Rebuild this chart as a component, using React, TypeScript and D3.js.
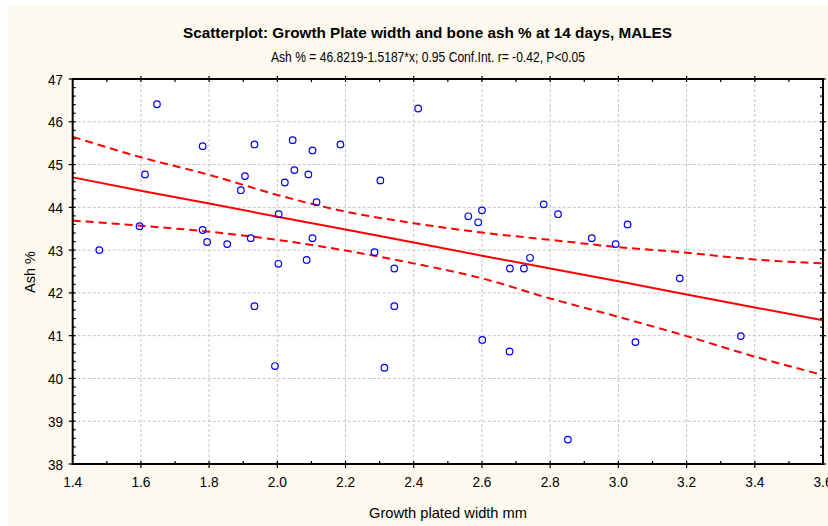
import React, { useEffect, useRef } from 'react';
import * as d3 from 'd3';

// scatter data: growth plate width (mm) vs ash %
const widthMm = [
  1.647, 1.478, 1.612, 1.596, 1.781, 1.933, 1.781, 1.794, 1.853, 1.893,
  1.905, 1.922, 2.004, 2.003, 2.022, 2.045, 2.050, 2.103, 2.091, 2.185,
  2.115, 2.302, 2.413, 2.103, 2.086, 2.285, 2.343, 2.560, 2.600, 2.589,
  2.781, 2.823, 2.741, 2.682, 2.723, 2.922, 2.992, 3.027, 3.180, 1.933,
  1.993, 2.343, 2.314, 2.601, 2.681, 2.852, 3.050, 3.359,
];
const ashPct = [
  46.41, 43.00, 44.77, 43.56, 45.43, 45.47, 43.47, 43.19, 43.14, 44.40,
  44.73, 43.28, 43.84, 42.68, 44.58, 45.57, 44.87, 45.33, 44.77, 45.47,
  44.12, 44.63, 46.31, 43.28, 42.77, 42.95, 42.57, 43.79, 43.93, 43.65,
  44.07, 43.84, 42.82, 42.57, 42.57, 43.28, 43.14, 43.60, 42.34, 41.69,
  40.29, 41.69, 40.25, 40.90, 40.63, 38.57, 40.85, 40.99,
];

// fitted line and 0.95 confidence band, read at the x grid
const bandX = [1.4, 1.6, 1.8, 2.0, 2.2, 2.4, 2.6, 2.8, 3.0, 3.2, 3.4, 3.6];
const fitY = [44.70, 44.39, 44.09, 43.78, 43.48, 43.18, 42.87, 42.57, 42.27, 41.96, 41.66, 41.36];
const upperY = [45.65, 45.17, 44.76, 44.29, 43.90, 43.63, 43.41, 43.24, 43.07, 42.94, 42.78, 42.69];
const lowerY = [43.69, 43.57, 43.43, 43.24, 42.99, 42.69, 42.34, 41.87, 41.44, 40.99, 40.51, 40.08];

const xTicks = [1.4, 1.6, 1.8, 2.0, 2.2, 2.4, 2.6, 2.8, 3.0, 3.2, 3.4, 3.6];
const yTicks = [38, 39, 40, 41, 42, 43, 44, 45, 46, 47];

const title = 'Scatterplot: Growth Plate width and bone ash % at 14 days, MALES';
const subtitle = 'Ash % = 46.8219-1.5187*x; 0.95 Conf.Int. r= -0.42, P<0.05';
const xLabel = 'Growth plated width mm';
const yLabel = 'Ash %';

const W = 828;
const H = 526;
const plot = { left: 72.7, right: 823, top: 79, bottom: 464 };
const font = "'Liberation Sans', Arial, sans-serif";

export default function App() {
  const svgRef = useRef<SVGSVGElement>(null);

  useEffect(() => {
    if (!svgRef.current) return;
    const svg = d3.select(svgRef.current);
    svg.selectAll('*').remove();

    const x = d3.scaleLinear().domain([1.4, 3.6]).range([plot.left, plot.right]);
    const y = d3.scaleLinear().domain([38, 47]).range([plot.bottom, plot.top]);

    // cream page background
    svg.append('rect')
      .attr('x', 7.5).attr('y', 6)
      .attr('width', W - 7.5).attr('height', H - 6)
      .attr('fill', '#fdf9ee');

    svg.append('rect')
      .attr('x', plot.left).attr('y', plot.top)
      .attr('width', plot.right - plot.left).attr('height', plot.bottom - plot.top)
      .attr('fill', '#ffffff');

    // grid
    const grid = svg.append('g')
      .attr('stroke', '#c4c4c4')
      .attr('stroke-width', 1)
      .attr('stroke-dasharray', '3,2');
    grid.selectAll('line.gx')
      .data(xTicks.slice(1, -1))
      .join('line')
      .attr('class', 'gx')
      .attr('x1', d => x(d)).attr('x2', d => x(d))
      .attr('y1', plot.top).attr('y2', plot.bottom);
    grid.selectAll('line.gy')
      .data(yTicks.slice(1, -1))
      .join('line')
      .attr('class', 'gy')
      .attr('x1', plot.left).attr('x2', plot.right)
      .attr('y1', d => y(d)).attr('y2', d => y(d));

    // regression + confidence band
    const line = d3.line<number>()
      .x((_, i) => x(bandX[i]))
      .y(d => y(d))
      .curve(d3.curveMonotoneX);

    svg.append('path')
      .attr('d', line(upperY))
      .attr('fill', 'none').attr('stroke', '#ff0000')
      .attr('stroke-width', 2).attr('stroke-dasharray', '8,5');
    svg.append('path')
      .attr('d', line(lowerY))
      .attr('fill', 'none').attr('stroke', '#ff0000')
      .attr('stroke-width', 2).attr('stroke-dasharray', '8,5');
    svg.append('path')
      .attr('d', d3.line<number>().x((_, i) => x(bandX[i])).y(d => y(d))(fitY))
      .attr('fill', 'none').attr('stroke', '#ff0000')
      .attr('stroke-width', 2);

    // points
    svg.append('g')
      .selectAll('circle')
      .data(widthMm)
      .join('circle')
      .attr('cx', d => x(d))
      .attr('cy', (_, i) => y(ashPct[i]))
      .attr('r', 3.3)
      .attr('fill', 'none')
      .attr('stroke', '#0000ff')
      .attr('stroke-width', 1.2);

    // frame
    svg.append('rect')
      .attr('x', plot.left).attr('y', plot.top)
      .attr('width', plot.right - plot.left).attr('height', plot.bottom - plot.top)
      .attr('fill', 'none').attr('stroke', '#000').attr('stroke-width', 2);

    // ticks
    const axes = svg.append('g').attr('stroke', '#000').attr('stroke-width', 1.2);
    const xMinor = d3.range(15, 36).map(v => v / 10);
    const yMinor = d3.range(190, 236).map(v => v / 5);
    xMinor.forEach(v => {
      const major = Math.abs(v * 5 - Math.round(v * 5)) < 1e-6;
      const px = x(v);
      axes.append('line').attr('x1', px).attr('x2', px)
        .attr('y1', plot.bottom - 3).attr('y2', plot.bottom + (major ? 4 : 0));
      axes.append('line').attr('x1', px).attr('x2', px)
        .attr('y1', plot.top - (major ? 3 : 0)).attr('y2', plot.top + 3);
    });
    yMinor.forEach(v => {
      const major = Math.abs(v - Math.round(v)) < 1e-6;
      const py = y(v);
      axes.append('line').attr('y1', py).attr('y2', py)
        .attr('x1', plot.left - (major ? 4 : 0)).attr('x2', plot.left + 3);
      axes.append('line').attr('y1', py).attr('y2', py)
        .attr('x1', plot.right - 3).attr('x2', plot.right + (major ? 3 : 0));
    });

    // tick labels (source font is condensed, so squeeze glyphs a bit)
    svg.append('g')
      .selectAll('text')
      .data(xTicks)
      .join('text')
      .attr('x', d => x(d))
      .attr('y', 487)
      .attr('text-anchor', 'middle')
      .attr('font-family', font)
      .attr('font-size', 15)
      .attr('textLength', 19)
      .attr('lengthAdjust', 'spacingAndGlyphs')
      .attr('fill', '#000')
      .text(d => d.toFixed(1));

    svg.append('g')
      .selectAll('text')
      .data(yTicks)
      .join('text')
      .attr('x', 63)
      .attr('y', d => y(d) + 5.5)
      .attr('text-anchor', 'end')
      .attr('font-family', font)
      .attr('font-size', 15)
      .attr('textLength', 15)
      .attr('lengthAdjust', 'spacingAndGlyphs')
      .attr('fill', '#000')
      .text(d => String(d));

    // titles
    svg.append('text')
      .attr('x', 427.5).attr('y', 38)
      .attr('text-anchor', 'middle')
      .attr('font-family', font)
      .attr('font-weight', 'bold')
      .attr('font-size', 15)
      .attr('textLength', 489)
      .attr('lengthAdjust', 'spacingAndGlyphs')
      .text(title);
    svg.append('text')
      .attr('x', 428).attr('y', 62)
      .attr('text-anchor', 'middle')
      .attr('font-family', font)
      .attr('font-size', 15.5)
      .attr('textLength', 314)
      .attr('lengthAdjust', 'spacingAndGlyphs')
      .text(subtitle);
    svg.append('text')
      .attr('x', 448).attr('y', 518)
      .attr('text-anchor', 'middle')
      .attr('font-family', font)
      .attr('font-size', 14.5)
      .attr('textLength', 158)
      .attr('lengthAdjust', 'spacingAndGlyphs')
      .text(xLabel);
    svg.append('text')
      .attr('transform', 'translate(35,272) rotate(-90)')
      .attr('text-anchor', 'middle')
      .attr('font-family', font)
      .attr('font-size', 14.5)
      .text(yLabel);
  }, []);

  return (
    <svg
      ref={svgRef}
      width={W}
      height={H}
      style={{ position: 'absolute', left: 0, top: 0, background: '#ffffff' }}
    />
  );
}
